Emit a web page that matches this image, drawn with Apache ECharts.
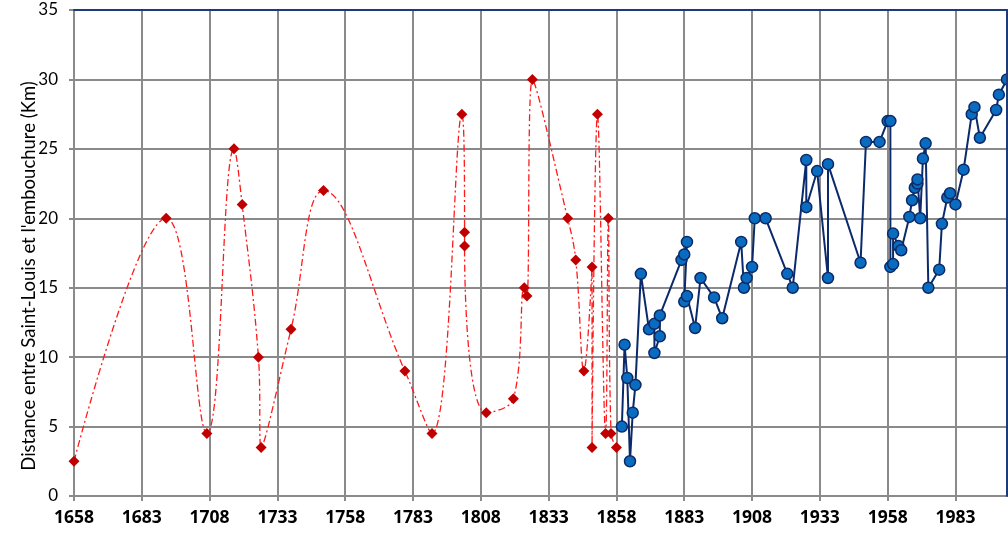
<!DOCTYPE html>
<html>
<head>
<meta charset="utf-8">
<script src="https://cdn.jsdelivr.net/npm/echarts@6/dist/echarts.min.js"></script>
<style>
  html, body { margin: 0; padding: 0; background: #ffffff; }
  #chart { width: 1008px; height: 535px; }
</style>
</head>
<body>
<div id="chart"></div>
<script>
// Historical positions (diamonds, smoothed dash-dot curve)
const histYears  = [1658, 1692, 1707, 1717, 1720, 1726, 1727, 1738, 1750, 1780, 1790, 1801, 1802, 1802, 1810, 1820, 1824, 1825, 1827, 1840, 1843, 1846, 1849, 1849, 1851, 1854, 1855, 1856, 1858];
const histValues = [2.5, 20, 4.5, 25, 21, 10, 3.5, 12, 22, 9, 4.5, 27.5, 19, 18, 6, 7, 15, 14.4, 30, 20, 17, 9, 16.5, 3.5, 27.5, 4.5, 20, 4.5, 3.5];

// Measured positions (circles, straight segments)
const measYears  = [1860, 1861, 1862, 1863, 1864, 1865, 1867, 1870, 1872, 1872, 1874, 1874, 1882, 1883, 1884, 1883, 1884, 1887, 1889, 1894, 1897, 1904, 1905, 1906, 1908, 1909, 1913, 1921, 1923, 1928, 1928, 1932, 1936, 1936, 1948, 1950, 1955, 1958, 1959, 1959, 1960, 1960, 1962, 1963, 1966, 1967, 1968, 1969, 1969, 1970, 1971, 1972, 1973, 1977, 1978, 1980, 1981, 1983, 1986, 1989, 1990, 1992, 1998, 1999, 2002];
const measValues = [5.0, 10.9, 8.5, 2.5, 6.0, 8.0, 16.0, 12.0, 12.4, 10.3, 11.5, 13.0, 17.0, 17.4, 18.3, 14.0, 14.4, 12.1, 15.7, 14.3, 12.8, 18.3, 15.0, 15.7, 16.5, 20.0, 20.0, 16.0, 15.0, 24.2, 20.8, 23.4, 15.7, 23.9, 16.8, 25.5, 25.5, 27.0, 27.0, 16.5, 16.7, 18.9, 18.0, 17.7, 20.1, 21.3, 22.2, 22.5, 22.8, 20.0, 24.3, 25.4, 15.0, 16.3, 19.6, 21.5, 21.8, 21.0, 23.5, 27.5, 28.0, 25.8, 27.8, 28.9, 30.0];

// Axis settings
const xMin = 1658, xMax = 2002, xStep = 25;
const yMin = 0, yMax = 35, yStep = 5;
const yTitle = "Distance entre Saint-Louis et l'embouchure (Km)";

const pairs = (xs, ys) => xs.map((x, i) => [x, ys[i]]);

const FONT = 'Lato, "Open Sans", sans-serif';
const GRID_GRAY = '#8a8a8a';
const BORDER_BLUE = '#1f3a78';

const chart = echarts.init(document.getElementById('chart'), null, { renderer: 'canvas' });

chart.setOption({
  animation: false,
  backgroundColor: '#ffffff',
  grid: { left: 74, right: 1, top: 10, bottom: 39, containLabel: false },
  xAxis: [
    {
      type: 'value', position: 'bottom', min: xMin, max: xMax, interval: xStep,
      axisLine: { show: true, onZero: false, lineStyle: { color: GRID_GRAY, width: 2 } },
      axisTick: { show: true, length: 5, lineStyle: { color: GRID_GRAY, width: 2 } },
      splitLine: { show: true, lineStyle: { color: GRID_GRAY, width: 2 } },
      axisLabel: {
        showMaxLabel: false, margin: 13,
        color: '#000', fontFamily: '"Open Sans", Lato, sans-serif', fontSize: 17.5, fontWeight: 'bold',
        formatter: v => String(v)
      }
    },
    {
      // upper frame line
      type: 'value', position: 'top', min: xMin, max: xMax, interval: xStep, z: 5,
      axisLine: { show: true, onZero: false, lineStyle: { color: BORDER_BLUE, width: 2 } },
      axisTick: { show: false }, axisLabel: { show: false }, splitLine: { show: false }
    }
  ],
  yAxis: [
    {
      type: 'value', position: 'left', min: yMin, max: yMax, interval: yStep,
      name: yTitle, nameLocation: 'middle', nameGap: 35, nameRotate: 90, nameMoveOverlap: false,
      nameTextStyle: { color: '#000', fontFamily: FONT, fontSize: 18.5, padding: [0, 46, 0, 0] },
      axisLine: { show: true, onZero: false, lineStyle: { color: GRID_GRAY, width: 2 } },
      axisTick: { show: true, length: 5, lineStyle: { color: GRID_GRAY, width: 2 } },
      splitLine: { show: true, lineStyle: { color: GRID_GRAY, width: 2 } },
      axisLabel: { margin: 16, color: '#000', fontFamily: FONT, fontSize: 17 }
    },
    {
      // right frame line
      type: 'value', position: 'right', min: yMin, max: yMax, interval: yStep, z: 5,
      axisLine: { show: true, onZero: false, lineStyle: { color: BORDER_BLUE, width: 2 } },
      axisTick: { show: false }, axisLabel: { show: false }, splitLine: { show: false }
    }
  ],
  series: [
    {
      type: 'line', name: 'historique',
      xAxisIndex: 0, yAxisIndex: 0,
      data: pairs(histYears, histValues),
      smooth: 0.4, clip: false, z: 3,
      symbol: 'diamond', symbolSize: 11,
      itemStyle: { color: '#c00000', borderWidth: 0 },
      lineStyle: { color: '#ff1a1a', width: 1.3, type: [7, 3, 2, 3] }
    },
    {
      type: 'line', name: 'mesures',
      xAxisIndex: 0, yAxisIndex: 0,
      data: pairs(measYears, measValues),
      smooth: false, clip: false, z: 4,
      symbol: 'circle', symbolSize: 11,
      itemStyle: { color: '#0a6cc0', borderColor: '#0b2a66', borderWidth: 1.5 },
      lineStyle: { color: '#0b2a6b', width: 2 }
    }
  ]
});
</script>
</body>
</html>
